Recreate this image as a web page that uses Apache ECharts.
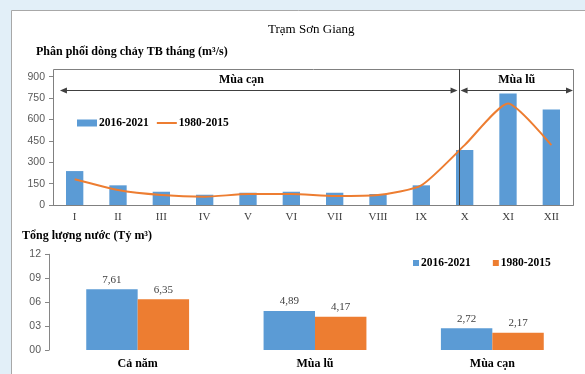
<!DOCTYPE html>
<html><head><meta charset="utf-8">
<script src="https://cdn.jsdelivr.net/npm/echarts@6/dist/echarts.min.js"></script>
<style>html,body{margin:0;padding:0;background:#e2eff8;}#c{width:585px;height:374px;}</style>
</head><body><div id="c"></div>
<script>
// ---- data ----
const months = ['I','II','III','IV','V','VI','VII','VIII','IX','X','XI','XII'];
const flow2016 = [238,138,93,72,86,93,86,77,138,385,782,670];
const flow1980 = [180,105,70,58,77,77,63,70,138,420,712,420];
const flowTicks = {min:0, max:900, interval:150};
const totalCats = ['Cả năm','Mùa lũ','Mùa cạn'];
const total2016 = [7.61,4.89,2.72];
const total1980 = [6.35,4.17,2.17];
const totalTicks = {min:0, max:12, interval:3};
const seriesNames = ['2016-2021','1980-2015'];
const seasonNames = ['Mùa cạn','Mùa lũ'];
const seasonSplit = 9.37;          // position on month scale of the divider

const blue = '#5b9bd5', orange = '#ed7d31', axisGray = '#868686';
const serif = '"Liberation Serif","Times New Roman",serif';
const sans = '"Liberation Sans",Arial,sans-serif';

const chart = echarts.init(document.getElementById('c'));
const option = {
  animation:false,
  title:[
    {text:'Trạm Sơn Giang', left:268, top:23, padding:0, textStyle:{fontFamily:serif,fontSize:13,fontWeight:'normal',color:'#000'}},
    {text:'Phân phối dòng chảy TB tháng (m³/s)', left:36, top:46, padding:0, textStyle:{fontFamily:serif,fontSize:12,fontWeight:'bold',color:'#000'}},
    {text:'Tổng lượng nước (Tỷ m³)', left:22, top:230, padding:0, textStyle:{fontFamily:serif,fontSize:12,fontWeight:'bold',color:'#000'}}
  ],
  legend:[
    {data:[{name:seriesNames[0], icon:'rect'}, {name:seriesNames[1], itemStyle:{opacity:0}}], left:77, top:117, itemWidth:20, itemHeight:7, itemGap:7, padding:0,
     textStyle:{fontFamily:serif,fontSize:11.5,fontWeight:'bold',color:'#000',padding:[0,0,0,-3]}},
    {data:seriesNames, icon:'rect', left:413, top:257, itemWidth:6, itemHeight:6, itemGap:22, padding:0,
     textStyle:{fontFamily:serif,fontSize:11.5,fontWeight:'bold',color:'#000',padding:[0,0,0,-3]}}
  ],
  grid:[
    {left:53, right:12, top:76.7, height:128.3},
    {left:49, right:4, top:254.3, height:95.7}
  ],
  xAxis:[
    {type:'category', gridIndex:0, data:months,
     axisLine:{lineStyle:{color:axisGray}}, axisTick:{length:4, lineStyle:{color:axisGray}},
     axisLabel:{fontFamily:serif,fontSize:11,color:'#404040',margin:7}},
    {type:'category', gridIndex:1, data:totalCats,
     axisLine:{show:false}, axisTick:{show:false},
     axisLabel:{fontFamily:serif,fontSize:12,fontWeight:'bold',color:'#000',margin:8}}
  ],
  yAxis:[
    {type:'value', gridIndex:0, min:flowTicks.min, max:flowTicks.max, interval:flowTicks.interval,
     axisLine:{show:true,lineStyle:{color:axisGray}}, axisTick:{show:true,length:4,lineStyle:{color:axisGray}},
     splitLine:{show:false}, axisLabel:{fontFamily:sans,fontSize:10.5,color:'#595959',margin:8}},
    {type:'value', gridIndex:1, min:totalTicks.min, max:totalTicks.max, interval:totalTicks.interval,
     axisLine:{show:true,lineStyle:{color:axisGray}}, axisTick:{show:true,length:4,lineStyle:{color:axisGray}},
     splitLine:{show:false}, axisLabel:{fontFamily:sans,fontSize:10.5,color:'#595959',margin:8,
       formatter:v=>String(v).padStart(2,'0')}}
  ],
  series:[
    {name:seriesNames[0], type:'bar', xAxisIndex:0, yAxisIndex:0, data:flow2016, barWidth:'40%',
     itemStyle:{color:blue}},
    {name:seriesNames[1], type:'line', xAxisIndex:0, yAxisIndex:0, data:flow1980, smooth:0.2, symbol:'none',
     lineStyle:{color:orange,width:2}, itemStyle:{color:orange}},
    {name:seriesNames[0], type:'bar', xAxisIndex:1, yAxisIndex:1, data:total2016, barWidth:'29%', barGap:'0%',
     itemStyle:{color:blue},
     label:{show:true,position:'top',distance:4,fontFamily:serif,fontSize:11,color:'#404040',formatter:p=>p.value.toFixed(2).replace('.',',')}},
    {name:seriesNames[1], type:'bar', xAxisIndex:1, yAxisIndex:1, data:total1980, barWidth:'29%', barGap:'0%',
     itemStyle:{color:orange},
     label:{show:true,position:'top',distance:4,fontFamily:serif,fontSize:11,color:'#404040',formatter:p=>p.value.toFixed(2).replace('.',',')}}
  ]
};
chart.setOption(option);

// ---- annotations (frame, season divider, arrows) ----
const c0 = chart.convertToPixel({xAxisIndex:0}, 0);
const c1 = chart.convertToPixel({xAxisIndex:0}, 1);
const catW = c1 - c0, x0 = c0 - catW/2;
const mx = v => x0 + v*catW;
const yv = v => chart.convertToPixel({yAxisIndex:0}, v);
const yTop = yv(952), yBase = yv(0), yArr = yv(805);
const dark = '#404040';
function arrow(xa, xb, y){
  const h = 7, w = 3;
  return [
    {type:'line', shape:{x1:xa+2,y1:y,x2:xb-2,y2:y}, style:{stroke:dark,lineWidth:1}, z:5},
    {type:'polygon', shape:{points:[[xa,y],[xa+h,y-w],[xa+h,y+w]]}, style:{fill:dark}, z:5},
    {type:'polygon', shape:{points:[[xb,y],[xb-h,y-w],[xb-h,y+w]]}, style:{fill:dark}, z:5}
  ];
}
const g = [
  {type:'rect', shape:{x:11.5,y:10.5,width:700,height:500}, style:{fill:'#fff',stroke:'#a8a8a8',lineWidth:1}, z:-10},
  {type:'rect', shape:{x:Math.round(mx(0))+0.5,y:Math.round(yTop)+0.5,width:Math.round(mx(12)-mx(0)),height:Math.round(yBase-yTop)}, style:{fill:null,stroke:'#808080',lineWidth:1}, z:4},
  {type:'line', shape:{x1:Math.round(mx(seasonSplit))+0.5,y1:yTop,x2:Math.round(mx(seasonSplit))+0.5,y2:yBase}, style:{stroke:dark,lineWidth:1}, z:5},
  ...arrow(mx(0.16), mx(seasonSplit)-1.5, Math.round(yArr)+0.5),
  ...arrow(mx(seasonSplit)+1.5, mx(12), Math.round(yArr)+0.5),
  {type:'text', x:mx(4.35), y:yv(875), style:{text:seasonNames[0], align:'center', verticalAlign:'middle', font:'bold 12px '+serif, fill:'#000'}, z:5},
  {type:'text', x:mx(10.7), y:yv(875), style:{text:seasonNames[1], align:'center', verticalAlign:'middle', font:'bold 12px '+serif, fill:'#000'}, z:5}
];
chart.setOption({graphic:g});
</script></body></html>
